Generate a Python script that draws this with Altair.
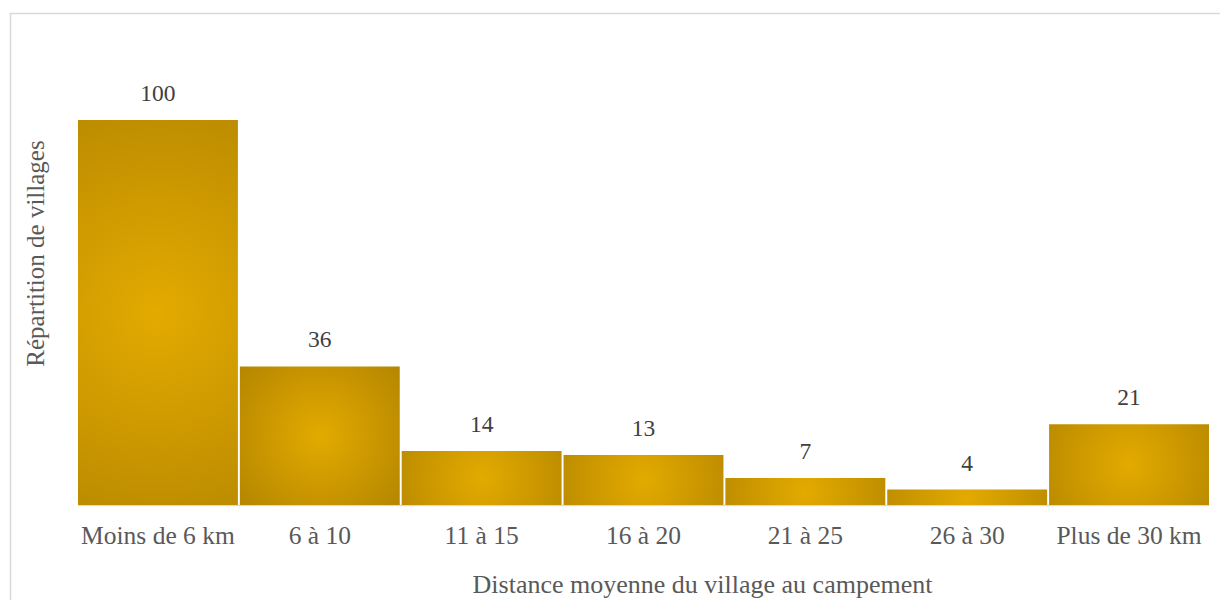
import altair as alt
import pandas as pd

categories = ["Moins de 6 km", "6 à 10", "11 à 15", "16 à 20", "21 à 25", "26 à 30", "Plus de 30 km"]
values = [100, 36, 14, 13, 7, 4, 21]

df = pd.DataFrame({"cat": categories, "val": values})

FONT = "Liberation Serif"
W, H = 1131, 492

gold = alt.RadialGradient(
    gradient="radial",
    stops=[alt.GradientStop(offset=0, color="#E3AA00"),
           alt.GradientStop(offset=1, color="#B08300")],
    x1=0.5, y1=0.5, r1=0, x2=0.5, y2=0.5, r2=0.72,
)

xenc = alt.X(
    "cat:N", sort=categories,
    scale=alt.Scale(paddingInner=0.012, paddingOuter=0),
    axis=alt.Axis(
        title="Distance moyenne du village au campement",
        labelAngle=0, ticks=False, grid=False,
        domainColor="#d9d9d9", domainWidth=1.5,
        labelFont=FONT, labelFontSize=25.5, labelColor="#595959",
        labelBaseline="alphabetic", labelPadding=38,
        titleFont=FONT, titleFontSize=26, titleColor="#595959",
        titleFontWeight="normal", titleBaseline="alphabetic",
        titleX=624, titleY=87, titleAlign="center",
    ),
)
yenc = alt.Y(
    "val:Q",
    scale=alt.Scale(domain=[0, 127.8], nice=False, zero=True),
    axis=alt.Axis(
        title="Répartition de villages",
        labels=False, ticks=False, domain=False, grid=False,
        titleFont=FONT, titleFontSize=25, titleColor="#595959",
        titleFontWeight="normal", titleBaseline="alphabetic",
        titleAngle=-90, titleX=-35, titleY=240, titleAlign="center",
    ),
)

bars = alt.Chart(df).mark_bar(fill=gold).encode(x=xenc, y=yenc)

labels = alt.Chart(df).mark_text(
    font=FONT, fontSize=23.5, color="#404040", baseline="alphabetic", dy=-19
).encode(x=alt.X("cat:N", sort=categories), y="val:Q", text="val:Q")

border = alt.Chart(pd.DataFrame({"a": [0]})).mark_rect(
    fill=None, fillOpacity=0, stroke="#d9d9d9", strokeWidth=1.5
).encode(
    x=alt.value(-67.5), x2=alt.value(W + 300),
    y=alt.value(0.5), y2=alt.value(H + 300),
)

chart = alt.layer(border, bars, labels).properties(
    width=W, height=H,
    autosize=alt.AutoSizeParams(type="none"),
    padding={"left": 70, "top": 5, "right": 11, "bottom": 95},
).configure_view(stroke=None)

chart.save("out.html", embed_options={"renderer": "svg", "actions": False})
